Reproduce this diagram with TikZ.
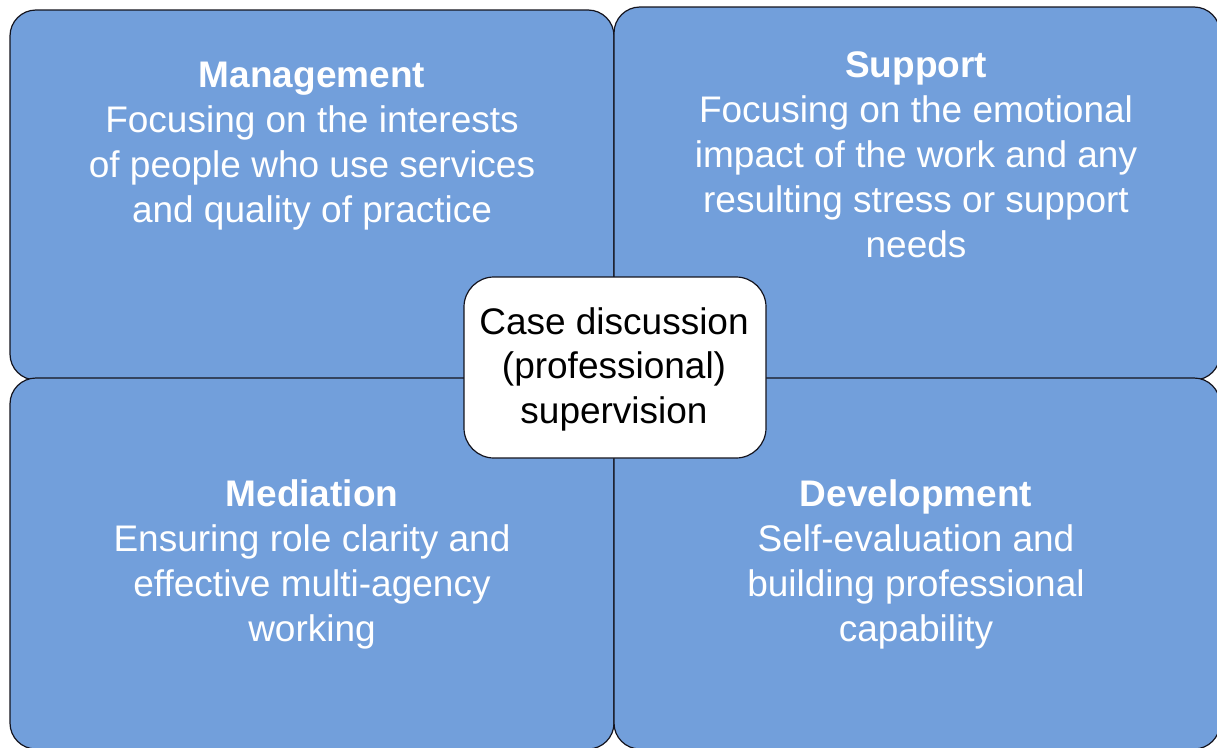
\documentclass[tikz,border=0pt]{standalone}
\usepackage{fontspec}
\setmainfont{Liberation Sans}
\definecolor{boxblue}{RGB}{114,159,219}
\definecolor{edge}{RGB}{20,20,30}
\tikzset{
  quad/.style={draw=edge, line width=1.2pt, fill=boxblue, rounded corners=26pt},
  hub/.style={draw=edge, line width=1.2pt, fill=white, rounded corners=30pt},
  quadtext/.style={text=white, align=center, inner sep=0pt, anchor=base,
    font=\fontsize{37}{45}\selectfont},
  hubtext/.style={text=black, align=center, inner sep=0pt, anchor=base,
    font=\fontsize{37}{44.5}\selectfont}
}
\begin{document}
\begin{tikzpicture}[x=1pt,y=-1pt]
\useasboundingbox (0,0) rectangle (1217,747);
\fill[white] (0,0) rectangle (1217,747);
\draw[quad] (10,10) rectangle (614,380);
\draw[quad] (614,7) rectangle (1220,380);
\draw[quad] (10,378) rectangle (614,749);
\draw[quad] (614,378) rectangle (1220,749);
\draw[hub] (464,277) rectangle (766,458);
\node[quadtext] (mgmt) at (312,222) {\textbf{Management}\\Focusing on the interests\\of people who use services\\and quality of practice};
\node[quadtext] (supp) at (916,257) {\textbf{Support}\\Focusing on the emotional\\impact of the work and any\\resulting stress or support\\needs};
\node[quadtext] (medi) at (312,641) {\textbf{Mediation}\\Ensuring role clarity and\\effective multi-agency\\working};
\node[quadtext] (dev) at (916,641) {\textbf{Development}\\Self-evaluation and\\building professional\\capability};
\node[hubtext] (hub) at (614,423) {Case discussion\\(professional)\\supervision};
\end{tikzpicture}
\end{document}
